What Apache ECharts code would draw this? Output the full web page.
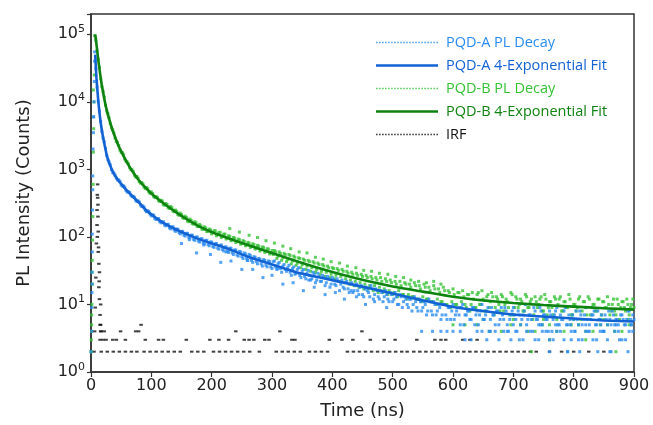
<!DOCTYPE html>
<html>
<head>
<meta charset="utf-8">
<title>PL Decay</title>
<script src="https://cdn.jsdelivr.net/npm/echarts@6/dist/echarts.min.js"></script>
<style>
  html, body { margin: 0; padding: 0; background: #fff; }
</style>
</head>
<body>
<div id="chartDecay" style="width:653px; height:425px;"></div>
<script>
// x ticks (ns) and y decades
const timeTicks = [0, 100, 200, 300, 400, 500, 600, 700, 800, 900];
const countDecades = [1, 10, 100, 1000, 10000, 100000];

// measured decay: run 1 sampled every 4 ns from t = 0, run 2 every 4 ns from t = 2
const sampleStepNs = 4;
const decayA = [
  2, 6000, 31000, 10200, 5100, 2900, 2050, 1400, 1170, 900,
  820, 700, 665, 565, 545, 460, 455, 395, 385, 335,
  330, 282, 276, 236, 238, 205, 210, 182, 187, 162,
  168, 146, 154, 132, 141, 121, 130, 111, 121, 103,
  113, 96, 106, 89, 100, 84, 94, 79, 89, 74,
  84, 70, 80, 66, 76, 62, 71, 59, 68, 55,
  64, 52, 60, 48, 56, 45, 53, 42, 50, 40,
  47, 37, 45, 36, 43, 34, 44, 33, 42, 30,
  39, 31, 38, 27, 36, 29, 35, 25, 33, 24,
  32, 23, 30, 21, 29, 22, 27, 19, 26, 18,
  25, 20, 24, 16, 23, 17, 22, 15, 21, 16,
  20, 14, 19, 13, 18, 15, 19, 12, 17, 13,
  16, 11, 16, 12, 15, 11, 15, 10, 14, 9,
  13, 10, 12, 8, 13, 9, 12, 8, 11, 7,
  12, 8, 11, 7, 10, 6, 10, 7, 9, 6,
  10, 7, 9, 5, 10, 7, 8, 6, 9, 5, 8,
  7, 10, 6, 8, 4, 9, 7, 8, 5, 9,
  6, 8, 4, 7, 9, 6, 8, 5, 7, 10,
  6, 7, 4, 8, 6, 9, 5, 7, 6, 8,
  4, 7, 9, 5, 6, 8, 5, 7, 3, 6,
  8, 5, 7, 6, 9, 4, 6, 7, 5, 8,
  6, 4, 7, 5, 6, 8, 5, 6, 3, 7,
  5, 6, 8, 5, 6
];
const decayA2 = [
  20, 55000, 16500, 7300, 3650, 2550, 1600, 1290, 990, 880,
  745, 700, 590, 570, 490, 470, 415, 400, 350, 342,
  298, 288, 248, 244, 218, 212, 186, 184, 168, 163,
  150, 153, 136, 140, 127, 131, 115, 120, 106, 113,
  98, 106, 92, 99, 87, 94, 81, 89, 77, 84,
  72, 79, 68, 75, 65, 71, 61, 68, 58, 64,
  54, 61, 51, 58, 48, 55, 45, 51, 43, 48,
  40, 46, 38, 44, 36, 43, 36, 40, 34, 37,
  33, 35, 30, 34, 28, 33, 27, 31, 26, 29,
  27, 24, 28, 23, 26, 22, 25, 21, 24, 20,
  23, 19, 22, 20, 18, 21, 17, 20, 15, 19,
  16, 18, 14, 17, 16, 13, 17, 14, 16, 12,
  15, 13, 14, 11, 14, 12, 13, 10, 13, 11,
  12, 9, 12, 10, 11, 8, 11, 9, 10, 8,
  11, 7, 10, 8, 9, 7, 10, 6, 9, 8,
  6, 8, 7, 9, 5, 7, 8, 6, 9, 7,
  5, 8, 6, 7, 9, 6, 7, 5, 8, 6,
  7, 9, 5, 6, 8, 7, 4, 7, 6, 8,
  5, 7, 6, 9, 6, 5, 8, 7, 6, 4,
  7, 6, 8, 5, 7, 6, 9, 5, 6, 7,
  4, 6, 8, 5, 7, 6, 5, 7, 8, 5,
  6, 7, 4, 6, 8, 5, 7, 6, 5, 7,
  6, 5, 8, 6, 7
];
const decayB = [
  2, 15000, 82000, 43000, 22000, 14300, 8900, 6700, 4750, 3850,
  2900, 2500, 1940, 1770, 1430, 1290, 1060, 990, 820, 785,
  655, 640, 545, 540, 460, 465, 395, 398, 345, 350,
  300, 312, 270, 282, 240, 250, 214, 226, 192, 203,
  172, 184, 157, 168, 143, 153, 130, 141, 120, 131,
  111, 123, 104, 116, 98, 110, 93, 104, 88, 98,
  83, 93, 78, 88, 74, 83, 70, 79, 66, 75,
  62, 71, 59, 67, 56, 63, 63, 48, 60, 45,
  57, 43, 55, 40, 52, 38, 49, 35, 47, 33,
  45, 31, 43, 30, 41, 28, 39, 26, 37, 25,
  35, 24, 34, 22, 33, 21, 31, 20, 30, 19,
  29, 18, 28, 17, 27, 17, 26, 16, 25, 15,
  25, 15, 24, 14, 23, 14,
  22, 13, 22, 14, 21, 12, 20, 13, 21, 12, 19, 11, 20, 12, 18, 11, 19, 10, 17, 11, 18, 10, 16, 9, 17,
  10, 15, 9, 16, 10, 14, 8, 15, 9, 14, 10, 16, 8, 13, 9, 15, 7, 13, 10, 14, 8, 12, 9, 15, 7,
  13, 9, 12, 8, 14, 9, 11, 6, 13, 9, 12, 8, 14, 7, 11, 9, 13, 6, 12, 8, 11, 9, 14, 7, 10,
  8, 12, 6, 11, 9, 13, 7, 10, 8, 12, 6, 11, 9, 13, 7, 10, 8, 12, 6, 11, 9, 12, 7, 10, 9
];
const decayB2 = [
  30, 95000, 57000, 32500, 16800, 11800, 7300, 5800, 4150, 3450,
  2600, 2270, 1790, 1650, 1320, 1210, 990, 930, 770, 745,
  625, 610, 520, 515, 442, 440, 382, 382, 336, 340,
  296, 302, 265, 272, 237, 240, 209, 215, 189, 195,
  168, 176, 155, 162, 142, 146, 129, 136, 121, 127,
  117, 124, 110, 117, 102, 110, 96, 102, 90, 96,
  85, 91, 80, 86, 76, 81, 72, 77, 68, 73,
  65, 70, 61, 66, 58, 55, 60, 52, 57, 49,
  55, 46, 53, 44, 50, 41, 48, 39, 45, 37,
  43, 35, 41, 33, 39, 31, 37, 30, 35, 28,
  34, 27, 32, 26, 31, 24, 29, 23, 28, 22,
  27, 21, 26, 20, 25, 19, 24, 19, 23, 18,
  22, 17, 22, 16, 21, 15, 20, 16, 19, 14,
  20, 14, 18, 13, 19, 12, 17, 13, 18, 12,
  16, 11, 17, 12, 15, 11, 16, 10, 15, 11,
  14, 10, 15, 11, 13, 9, 14, 10, 12, 9,
  15, 10, 12, 8, 14, 11, 13, 9, 12, 8,
  13, 10, 11, 7, 14, 9, 12, 10, 11, 8,
  13, 9, 12, 7, 11, 10, 13, 8, 12, 9,
  11, 7, 12, 10, 13, 8, 11, 9, 12, 7,
  10, 9, 13, 8, 11, 7, 12, 9, 10, 8,
  12, 7, 11, 9, 10, 8, 12, 7, 10, 9,
  11, 8, 10, 9, 12
];

// rising edge, scattered outliers and low-count rows of the decays
const riseTimeA = [1, 1, 1.5, 1.5, 2, 2, 2.5, 3, 3, 3.5, 4, 4.5, 5, 5.5, 6];
const riseA = [4, 9, 15, 30, 60, 110, 250, 500, 800, 2000, 3500, 6000, 10000, 20000, 40000];
const riseTimeB = [0.5, 0.5, 1, 1, 1, 1.5, 2, 2, 2.5, 3, 3.5, 4, 4.5, 5, 5.5];
const riseB = [2, 3, 4, 5, 7, 10, 20, 45, 90, 200, 600, 1800, 4000, 10000, 25000];
const outTimeA = [150, 163, 175, 187, 198, 215, 224, 232, 250, 259, 268, 285, 300, 309, 318, 335, 352, 361, 370, 388, 405, 420, 431, 440, 455, 470, 490];
const outA = [80, 91, 58, 76, 55, 42, 60, 44, 33, 45, 33, 25, 27, 34, 20, 21, 16, 23, 18, 14, 15, 12, 16, 13, 10, 11, 9];
const outTimeB = [230, 246, 262, 276, 290, 304, 318, 331, 345, 358, 372, 385, 398, 412, 425, 439, 452, 465, 478, 492, 505, 518, 530, 543, 556, 568, 580];
const outB = [133, 118, 106, 98, 88, 81, 73, 67, 60, 58, 50, 47, 43, 41, 37, 35, 32, 31, 29, 28, 26, 25, 23, 22, 21, 22, 20];
const lowTimeA = [548, 566, 580, 590, 600, 612, 620, 630, 640, 648, 656, 662, 670, 676, 684, 690, 696, 704, 710, 716, 722, 728, 736, 742, 748, 754, 760, 766, 772, 778, 784, 790, 796, 802, 808, 814, 820, 826, 832, 838, 844, 850, 856, 862, 868, 874, 880, 886, 892, 898, 700, 745, 770, 795, 820, 845, 870, 895, 760, 790, 810, 840, 860, 890];
const lowA = [4, 4, 4, 4, 4, 4, 3, 3, 4, 4, 3, 4, 4, 3, 4, 4, 3, 4, 3, 3, 4, 4, 3, 3, 4, 4, 3, 3, 4, 4, 3, 2, 4, 4, 3, 3, 4, 4, 3, 3, 4, 4, 3, 2, 4, 4, 3, 3, 4, 4, 5, 5, 5, 5, 5, 5, 5, 5, 2, 2, 2, 2, 2, 2];
const lowTimeB = [600, 620, 640, 660, 680, 696, 712, 724, 736, 748, 760, 772, 784, 796, 808, 820, 832, 844, 856, 868, 880, 892, 650, 700, 750, 800, 850, 890, 820, 870, 760, 730];
const lowB = [5, 5, 5, 4, 4, 5, 5, 4, 4, 5, 5, 4, 4, 5, 5, 4, 4, 5, 5, 4, 4, 5, 6, 6, 6, 6, 6, 6, 3, 2, 3, 2];

// 4-exponential fits
const fitTime = [7, 8, 9, 10, 11, 12, 14, 16, 18, 20, 23, 26, 30, 35, 40, 45, 50, 60, 70, 80, 90, 100, 110, 120, 140, 160, 180, 200, 230, 260, 300, 340, 380, 420, 460, 500, 550, 600, 650, 700, 750, 800, 850, 900];
const fitA = [50000, 33000, 23000, 17500, 13500, 10500, 7000, 5000, 3800, 3000, 2200, 1650, 1250, 980, 800, 690, 610, 480, 390, 320, 255, 215, 185, 162, 130, 108, 92, 80, 65, 51, 39, 30, 25, 21, 17.5, 14.5, 11.5, 9.2, 8.0, 7.1, 6.6, 6.2, 5.8, 5.6];
const fitB = [100000, 85000, 72000, 60000, 50000, 42000, 31000, 23000, 17500, 14000, 10000, 7600, 5600, 4000, 3000, 2300, 1850, 1250, 900, 680, 540, 440, 370, 315, 235, 180, 142, 118, 94, 76, 58, 44, 34, 27, 22, 18.5, 15.5, 13, 11.5, 10.5, 9.8, 9.3, 8.8, 8.4];

// IRF
const irfSpikeTime = [5, 6, 7, 8, 9, 10, 10.5, 11, 11.5, 12, 12.5, 13, 13.5, 14, 15, 16, 17, 10, 11, 12, 13, 10.5, 11.5, 14, 16];
const irfSpike = [2, 4, 9, 25, 80, 250, 420, 380, 200, 120, 70, 40, 22, 12, 7, 5, 4, 150, 600, 60, 18, 100, 300, 30, 10];
const irfTime2 = [17, 27, 37, 47, 57, 67, 76, 88, 98, 108, 118, 128, 138, 148, 167, 177, 187, 203, 213, 223, 233, 243, 253, 263, 279, 307, 317, 327, 337, 347, 362, 372, 382, 392, 425, 435, 445, 455, 465, 475, 485, 495, 505, 515, 524, 535, 545, 555, 565, 575, 585, 598, 608, 618, 628, 638, 648, 658, 668, 678, 688, 698, 708, 718, 728, 738, 760, 780, 800, 825, 850];
const irfTime3 = [15, 20, 25, 36, 42, 57, 90, 112, 120, 158, 197, 212, 228, 254, 262, 270, 288, 295, 333, 338, 395, 416, 434, 463, 486, 504, 540, 570, 580, 588, 616, 628, 640];
const irfTime4 = [16, 22, 49, 74, 79, 240, 313, 449];
const irfTime5 = [15, 83];

const colorDecayA = '#2a8cf0';
const colorFitA = '#1262d4';
const colorDecayB = '#36c236';
const colorFitB = '#0f830f';
const colorIrf = '#111111';

function pairs(times, values) { return times.map((t, i) => [t, values[i]]); }
function sampled(values, startNs) { return values.map((v, i) => [startNs + i * sampleStepNs, v]); }
function level(times, n) { return times.map(t => [t, n]); }

const irfData = pairs(irfSpikeTime, irfSpike)
  .concat(level(irfTime2, 2), level(irfTime3, 3), level(irfTime4, 4), level(irfTime5, 5));

function dottedIcon() {
  let p = 'path://';
  for (let x = 0; x < 62; x += 3) p += 'M' + x + ',0h1.6v1.6h-1.6z';
  return p;
}
const solidIcon = 'path://M0,0h62v2.6h-62z';

const chart = echarts.init(document.getElementById('chartDecay'));
const axisFont = 'DejaVu Sans';
const scatterBase = { type: 'scatter', symbol: 'rect', symbolSize: 3, silent: true, animation: false };
const legendText = c => ({ color: c, padding: [0, 0, 0, 3] });

chart.setOption({
  animation: false,
  grid: { left: 91, right: 19, top: 14, bottom: 50, show: true, borderColor: '#333', borderWidth: 1.5 },
  legend: {
    orient: 'vertical', left: 371, top: 30, itemWidth: 62, itemHeight: 12, itemGap: 8,
    textStyle: { fontFamily: 'Open Sans', fontSize: 14.5 },
    selectedMode: false,
    data: [
      { name: 'PQD-A PL Decay', icon: dottedIcon(), itemStyle: { color: colorDecayA }, textStyle: legendText(colorDecayA) },
      { name: 'PQD-A 4-Exponential Fit', icon: solidIcon, itemStyle: { color: colorFitA }, textStyle: legendText(colorFitA) },
      { name: 'PQD-B PL Decay', icon: dottedIcon(), itemStyle: { color: colorDecayB }, textStyle: legendText(colorDecayB) },
      { name: 'PQD-B 4-Exponential Fit', icon: solidIcon, itemStyle: { color: colorFitB }, textStyle: legendText(colorFitB) },
      { name: 'IRF', icon: dottedIcon(), itemStyle: { color: colorIrf }, textStyle: legendText(colorIrf) }
    ]
  },
  xAxis: {
    type: 'value', min: timeTicks[0], max: timeTicks[timeTicks.length - 1], interval: 100,
    name: 'Time (ns)', nameLocation: 'middle', nameGap: 30,
    nameTextStyle: { fontFamily: axisFont, fontSize: 18, color: '#222' },
    axisLine: { lineStyle: { color: '#333', width: 1.5 } },
    axisTick: { inside: false, length: 5, lineStyle: { color: '#333', width: 1.2 } },
    axisLabel: { fontFamily: axisFont, fontSize: 16, color: '#222', margin: 6 },
    splitLine: { show: false }
  },
  yAxis: {
    type: 'log', logBase: 10, min: countDecades[0], max: 200000,
    name: 'PL Intensity (Counts)', nameLocation: 'middle', nameGap: 58,
    nameTextStyle: { fontFamily: axisFont, fontSize: 18, color: '#222' },
    axisLine: { lineStyle: { color: '#333', width: 1.5 } },
    axisTick: { inside: false, length: 4, lineStyle: { color: '#333', width: 1.2 } },
    axisLabel: {
      fontFamily: axisFont, fontSize: 16, color: '#222', margin: 6,
      formatter: function (v) {
        const e = Math.round(Math.log10(v));
        if (Math.abs(Math.log10(v) - e) > 1e-6 || countDecades.indexOf(v) < 0) return '';
        return '10{sup|' + e + '}';
      },
      rich: { sup: { fontFamily: axisFont, fontSize: 11, color: '#222', padding: [0, 0, 10, 0] } }
    },
    splitLine: { show: false }
  },
  series: [
    Object.assign({}, scatterBase, { name: 'IRF', symbolSize: [3.5, 2], itemStyle: { color: colorIrf }, data: irfData }),
    Object.assign({}, scatterBase, { name: 'PQD-B PL Decay', itemStyle: { color: colorDecayB },
      data: pairs(riseTimeB, riseB).concat(sampled(decayB, 0), sampled(decayB2, 2), pairs(outTimeB, outB), pairs(lowTimeB, lowB)) }),
    Object.assign({}, scatterBase, { name: 'PQD-A PL Decay', itemStyle: { color: colorDecayA },
      data: pairs(riseTimeA, riseA).concat(sampled(decayA, 0), sampled(decayA2, 2), pairs(outTimeA, outA), pairs(lowTimeA, lowA)) }),
    { name: 'PQD-B 4-Exponential Fit', type: 'line', showSymbol: false, smooth: 0.2, silent: true,
      lineStyle: { color: colorFitB, width: 2.6 }, itemStyle: { color: colorFitB }, data: pairs(fitTime, fitB) },
    { name: 'PQD-A 4-Exponential Fit', type: 'line', showSymbol: false, smooth: 0.2, silent: true,
      lineStyle: { color: colorFitA, width: 2.6 }, itemStyle: { color: colorFitA }, data: pairs(fitTime, fitA) }
  ]
});
</script>
</body>
</html>
